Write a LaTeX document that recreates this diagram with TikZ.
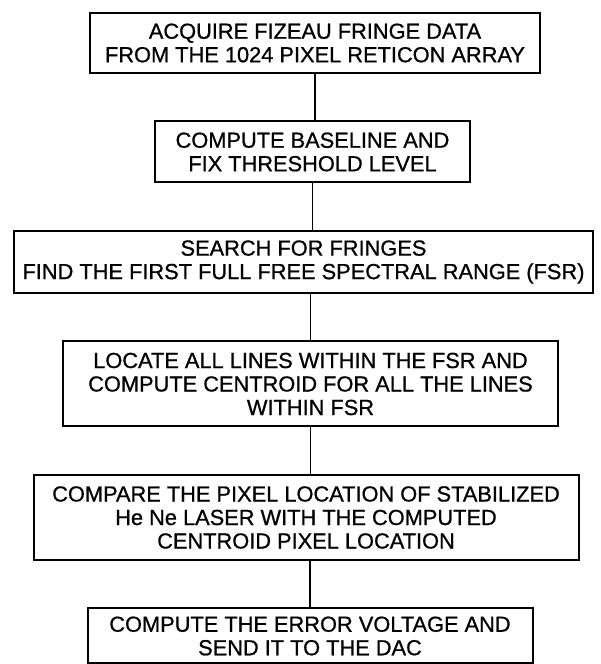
\documentclass[tikz,border=0pt]{standalone}
\usepackage{fontspec}
\setmainfont{Liberation Sans}
\newfontfamily\flowfont[RawFeature={embolden=0.8}]{Liberation Sans}
\usetikzlibrary{positioning}

\begin{document}
\begin{tikzpicture}[
    x=1pt, y=1pt,
    node distance=46.5pt,
    block/.style={rectangle, draw=black, line width=2pt, align=center, inner sep=0pt, font=\flowfont\fontsize{21.8}{23.5}\selectfont},
    link/.style={line width=1.8pt, draw=black}
]
    \useasboundingbox (0,0) rectangle (600,664);

    \node[block, minimum width=450pt, minimum height=60pt] (acquire) at (315,621) {ACQUIRE FIZEAU FRINGE DATA\\ FROM THE 1024 PIXEL RETICON ARRAY};
    \node[block, minimum width=315pt, minimum height=61pt, below=of acquire, xshift=-2.5pt] (baseline) {COMPUTE BASELINE AND\\ FIX THRESHOLD LEVEL};
    \node[block, minimum width=579pt, minimum height=62pt, below=of baseline, xshift=-9pt] (search) {SEARCH FOR FRINGES\\ FIND THE FIRST FULL FREE SPECTRAL RANGE (FSR)};
    \node[block, minimum width=495pt, minimum height=85pt, below=of search, xshift=7pt] (locate) {LOCATE ALL LINES WITHIN THE FSR AND\\ COMPUTE CENTROID FOR ALL THE LINES\\ WITHIN FSR};
    \node[block, minimum width=545pt, minimum height=85pt, below=of locate, xshift=-4.5pt] (compare) {COMPARE THE PIXEL LOCATION OF STABILIZED\\ He Ne LASER WITH THE COMPUTED\\ CENTROID PIXEL LOCATION};
    \node[block, minimum width=445pt, minimum height=55pt, below=of compare, xshift=4pt] (voltage) {COMPUTE THE ERROR VOLTAGE AND\\ SEND IT TO THE DAC};

    \draw[link] (acquire.south) -- (acquire.south |- baseline.north);
    \draw[link] (baseline.south) -- (baseline.south |- search.north);
    \draw[link] (search.south -| locate.north) -- (locate.north);
    \draw[link] (locate.south) -- (locate.south |- compare.north);
    \draw[link] (voltage.north |- compare.south) -- (voltage.north);
\end{tikzpicture}
\end{document}
